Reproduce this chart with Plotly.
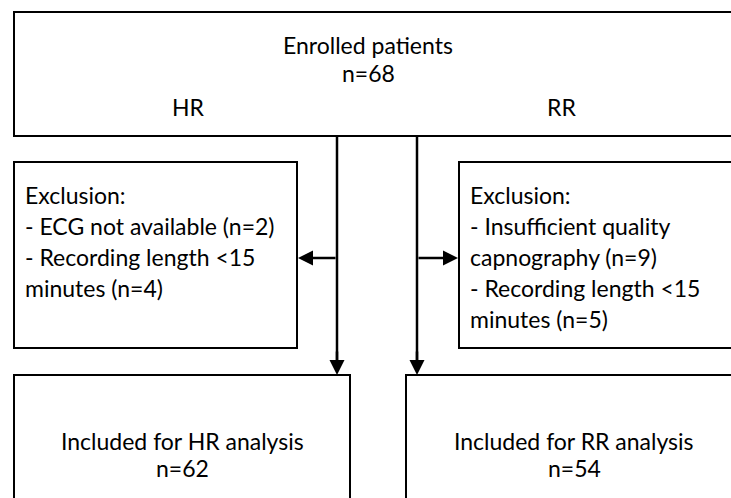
import plotly.graph_objects as go

# ---- data (text content of the flow diagram) ----
enrolled_label = "Enrolled patients"
enrolled_n = 68
branch_labels = ["HR", "RR"]
excl_hr_lines = ["Exclusion:", "- ECG not available (n=2)", "- Recording length <15", "minutes (n=4)"]
excl_rr_lines = ["Exclusion:", "- Insufficient quality", "capnography (n=9)", "- Recording length <15", "minutes (n=5)"]
included_labels = ["Included for HR analysis", "Included for RR analysis"]
included_n = [62, 54]

W, H = 731, 498
FONT = dict(family="Lato, Carlito, Calibri, sans-serif", size=23, color="#000000")
LW = 2

fig = go.Figure()
shapes = []
annotations = []

def rect(x0, y0, x1, y1):
    shapes.append(dict(type="rect", xref="x", yref="y", x0=x0, y0=y0, x1=x1, y1=y1,
                       line=dict(color="black", width=LW), fillcolor="rgba(0,0,0,0)"))

def text(x, y, s, anchor="center"):
    annotations.append(dict(x=x, y=y, xref="x", yref="y", text=s, showarrow=False,
                            xanchor=anchor, yanchor="middle", font=FONT))

def arrow(x0, y0, x1, y1):
    annotations.append(dict(x=x1, y=y1, ax=x0, ay=y0, xref="x", yref="y", axref="x", ayref="y",
                            text="", showarrow=True, arrowhead=2, arrowsize=1.2,
                            arrowwidth=2.5, arrowcolor="black", standoff=0))

# boxes
rect(14, 12, 760, 136)          # enrolled (open on the right)
rect(14, 162, 297, 348)         # HR exclusion
rect(459, 162, 760, 348)        # RR exclusion
rect(14, 375, 350, 520)         # HR included
rect(406, 375, 760, 520)        # RR included

# connector lines + arrows
shapes.append(dict(type="line", xref="x", yref="y", x0=337, y0=137, x1=337, y1=360,
                   line=dict(color="black", width=2.5)))
shapes.append(dict(type="line", xref="x", yref="y", x0=417, y0=137, x1=417, y1=360,
                   line=dict(color="black", width=2.5)))
arrow(337, 350, 337, 375)
arrow(417, 350, 417, 375)
arrow(337, 258, 298, 258)
arrow(417, 258, 458, 258)

# texts
text(368, 45, enrolled_label)
text(368, 73, f"n={enrolled_n}")
text(188, 107, branch_labels[0])
text(561, 107, branch_labels[1])

for i, s in enumerate(excl_hr_lines):
    text(23, 195 + i * 31, s, anchor="left")
for i, s in enumerate(excl_rr_lines):
    text(468, 195 + i * 31, s, anchor="left")

text(182, 441, included_labels[0])
text(182, 468, f"n={included_n[0]}")
text(574, 441, included_labels[1])
text(574, 468, f"n={included_n[1]}")

fig.update_layout(
    width=W, height=H, margin=dict(l=0, r=0, t=0, b=0),
    paper_bgcolor="white", plot_bgcolor="white",
    xaxis=dict(range=[0, W], visible=False, fixedrange=True),
    yaxis=dict(range=[H, 0], visible=False, fixedrange=True),
    shapes=shapes, annotations=annotations, showlegend=False,
)
fig.write_html("out.html", config={"displayModeBar": False},
               post_script="document.body.style.margin='0';document.body.style.overflow='hidden';")
